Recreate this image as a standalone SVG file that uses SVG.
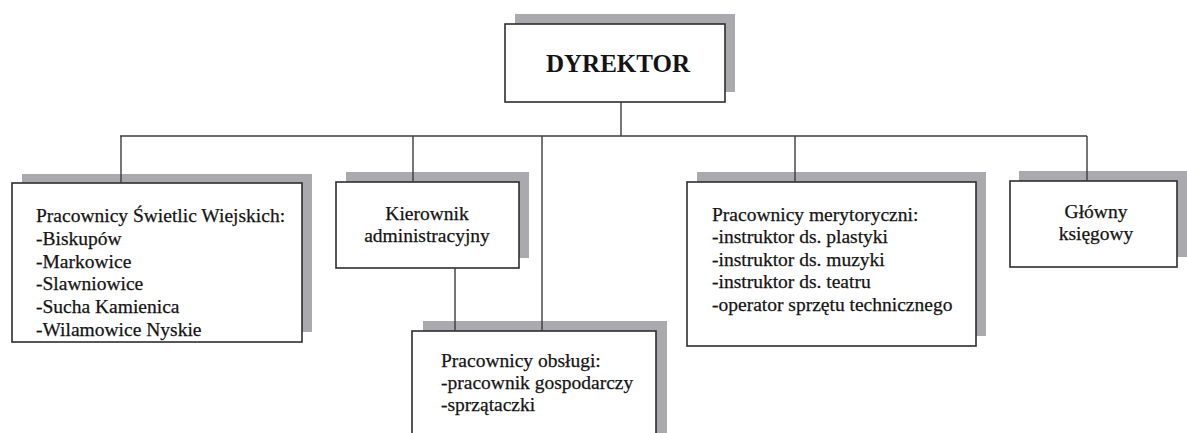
<svg xmlns="http://www.w3.org/2000/svg" width="1187" height="433" viewBox="0 0 1187 433">
<style>
.bg{fill:#ffffff}
.sh{fill:#a9a9ae}
.bx{fill:#ffffff;stroke:#2e2e2e;stroke-width:1.6}
.t{font-family:"Liberation Serif","Times New Roman",serif;font-size:19.5px;fill:#141414;stroke:#141414;stroke-width:0.25}
.c{text-anchor:middle}
.h{font-size:25px;font-weight:bold;stroke-width:0}
.ln{stroke:#3c3c3c;stroke-width:1.4;fill:none}
</style>
<rect class="bg" x="0" y="0" width="1187" height="433"/>
<g id="dyrektor">
<rect class="sh" x="515" y="14" width="220" height="78"/>
<rect class="bx" x="505" y="24" width="220" height="78"/>
<text class="t c h" x="618" y="72">DYREKTOR</text>
</g>
<g id="swietlice">
<rect class="sh" x="22" y="174" width="290" height="158"/>
<rect class="bx" x="12" y="183" width="290" height="159"/>
<text class="t" x="36" y="222">Pracownicy Świetlic Wiejskich:</text>
<text class="t" x="36" y="245">-Biskupów</text>
<text class="t" x="36" y="268">-Markowice</text>
<text class="t" x="36" y="290">-Slawniowice</text>
<text class="t" x="36" y="313">-Sucha Kamienica</text>
<text class="t" x="36" y="336">-Wilamowice Nyskie</text>
</g>
<g id="kierownik">
<rect class="sh" x="346" y="172" width="183" height="86"/>
<rect class="bx" x="336" y="182" width="183" height="86"/>
<text class="t c" x="427" y="220">Kierownik</text>
<text class="t c" x="427" y="242">administracyjny</text>
</g>
<g id="obsluga">
<rect class="sh" x="423" y="321" width="244" height="130"/>
<rect class="bx" x="412" y="331" width="244" height="130"/>
<text class="t" x="441" y="367">Pracownicy obsługi:</text>
<text class="t" x="441" y="389">-pracownik gospodarczy</text>
<text class="t" x="441" y="411">-sprzątaczki</text>
</g>
<g id="merytoryczni">
<rect class="sh" x="697" y="172" width="289" height="164"/>
<rect class="bx" x="687" y="182" width="289" height="164"/>
<text class="t" x="712" y="221">Pracownicy merytoryczni:</text>
<text class="t" x="712" y="243">-instruktor ds. plastyki</text>
<text class="t" x="712" y="266">-instruktor ds. muzyki</text>
<text class="t" x="712" y="288">-instruktor ds. teatru</text>
<text class="t" x="712" y="311">-operator sprzętu technicznego</text>
</g>
<g id="ksiegowy">
<rect class="sh" x="1019" y="171" width="170" height="86"/>
<rect class="bx" x="1010" y="181" width="167" height="86"/>
<text class="t c" x="1096" y="218">Główny</text>
<text class="t c" x="1096" y="240">księgowy</text>
</g>
<g id="connectors">
<path class="ln" d="M621 102V136"/>
<path class="ln" d="M120 136H1087"/>
<path class="ln" d="M121 136V183"/>
<path class="ln" d="M413 136V182"/>
<path class="ln" d="M542 136V331"/>
<path class="ln" d="M795 136V182"/>
<path class="ln" d="M1087 136V181"/>
<path class="ln" d="M455 268V331"/>
</g>
</svg>
